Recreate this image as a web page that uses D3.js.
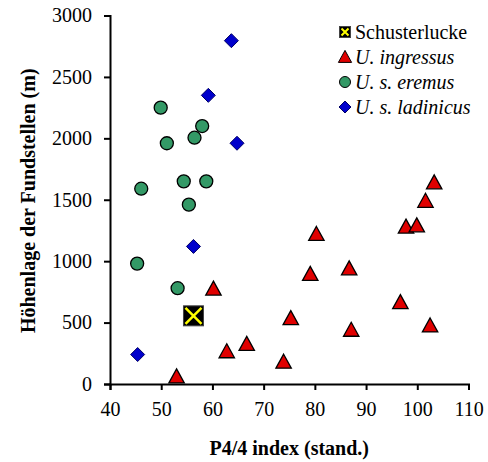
<!DOCTYPE html>
<html>
<head>
<meta charset="utf-8">
<script src="https://cdn.jsdelivr.net/npm/d3@7"></script>
<style>
  body { margin: 0; background: #fff; }
  svg text { font-family: "Liberation Serif", "Times New Roman", serif; }
</style>
</head>
<body>
<div id="chart"></div>
<script>
// Data (P4/4 index, altitude in m)
const schusterlucke = [[56.3, 555]];
const ingressus = [
  [53.0, 60], [60.2, 775], [62.8, 265], [66.7, 325], [73.9, 180], [75.3, 535],
  [79.1, 895], [80.3, 1220], [86.7, 940], [87.1, 440], [96.7, 665], [97.8, 1280],
  [99.9, 1290], [101.6, 1490], [103.3, 1640], [102.5, 475]
];
const eremus = [
  [49.9, 2250], [51.1, 1960], [56.5, 2005], [58.0, 2100], [54.4, 1650], [58.8, 1650],
  [46.1, 1590], [55.4, 1460], [45.3, 980], [53.2, 780]
];
const ladinicus = [[63.7, 2795], [59.2, 2350], [64.8, 1960], [56.3, 1120], [45.4, 240]];

const xTicks = [40, 50, 60, 70, 80, 90, 100, 110];
const yTicks = [0, 500, 1000, 1500, 2000, 2500, 3000];
const legendLabels = ["Schusterlucke", "U. ingressus", "U. s. eremus", "U. s. ladinicus"];

const width = 488, height = 462;
const fontSize = 20;
const serif = "'Liberation Serif', 'Times New Roman', serif";

const svg = d3.select("#chart").append("svg")
  .attr("width", width)
  .attr("height", height);

const x = d3.scaleLinear().domain([40, 110]).range([110, 468.5]);
const y = d3.scaleLinear().domain([0, 3000]).range([384, 15.5]);

// Axes
svg.append("g")
  .attr("transform", `translate(0,${y(0)})`)
  .call(d3.axisBottom(x).tickValues(xTicks).tickFormat(d3.format("d"))
    .tickSize(6).tickSizeOuter(6).tickPadding(12))
  .attr("font-family", serif).attr("font-size", fontSize)
  .call(g => g.selectAll("path, line").attr("stroke", "#000").attr("stroke-width", 2))
  .call(g => g.selectAll("text").attr("fill", "#000"));

svg.append("g")
  .attr("transform", `translate(${x(40)},0)`)
  .call(d3.axisLeft(y).tickValues(yTicks).tickFormat(d3.format("d"))
    .tickSize(6).tickSizeOuter(6).tickPadding(12))
  .attr("font-family", serif).attr("font-size", fontSize)
  .call(g => g.selectAll("path, line").attr("stroke", "#000").attr("stroke-width", 2))
  .call(g => g.selectAll("text").attr("fill", "#000"));

// Axis titles
svg.append("text")
  .attr("x", (x(40) + x(110)) / 2)
  .attr("y", 455)
  .attr("text-anchor", "middle")
  .attr("font-size", fontSize)
  .attr("font-weight", "bold")
  .text("P4/4 index (stand.)");

svg.append("text")
  .attr("transform", "rotate(-90)")
  .attr("x", -(y(0) + y(3000)) / 2 - 1)
  .attr("y", 35)
  .attr("text-anchor", "middle")
  .attr("font-size", fontSize)
  .attr("font-weight", "bold")
  .text("Höhenlage der Fundstellen (m)");

// Marker helpers
const triPath = s => `M0,${-s * 0.55}L${s * 0.55},${s * 0.45}L${-s * 0.55},${s * 0.45}Z`;
const diaPath = s => `M0,${-s}L${s},0L0,${s}L${-s},0Z`;

function drawSquare(g, s) {
  g.append("rect").attr("x", -s / 2).attr("y", -s / 2).attr("width", s).attr("height", s)
    .attr("fill", "#000").attr("stroke", "#444").attr("stroke-width", 1);
  const d = s / 2 - 2;
  g.append("path").attr("d", `M${-d},${-d}L${d},${d}M${d},${-d}L${-d},${d}`)
    .attr("stroke", "#ffff00").attr("stroke-width", s > 15 ? 2.5 : 2);
}

// Points
svg.append("g").selectAll("circle").data(eremus).join("circle")
  .attr("cx", d => x(d[0])).attr("cy", d => y(d[1])).attr("r", 6.5)
  .attr("fill", "#339966").attr("stroke", "#000").attr("stroke-width", 1.3);

svg.append("g").selectAll("path").data(ingressus).join("path")
  .attr("transform", d => `translate(${x(d[0])},${y(d[1])})`)
  .attr("d", triPath(14))
  .attr("fill", "#e00000").attr("stroke", "#000").attr("stroke-width", 1.3);

svg.append("g").selectAll("path").data(ladinicus).join("path")
  .attr("transform", d => `translate(${x(d[0])},${y(d[1])})`)
  .attr("d", diaPath(7))
  .attr("fill", "#0000cc").attr("stroke", "#000066").attr("stroke-width", 1);

svg.append("g").selectAll("g").data(schusterlucke).join("g")
  .attr("transform", d => `translate(${x(d[0])},${y(d[1])})`)
  .each(function () { drawSquare(d3.select(this), 20); });

// Legend
const legend = svg.append("g").attr("transform", "translate(345,32)");
legendLabels.forEach((label, i) => {
  const row = legend.append("g").attr("transform", `translate(0,${i * 25})`);
  if (i === 0) drawSquare(row, 11);
  if (i === 1) row.append("path").attr("d", triPath(12))
    .attr("fill", "#e00000").attr("stroke", "#000").attr("stroke-width", 1);
  if (i === 2) row.append("circle").attr("r", 5.5)
    .attr("fill", "#339966").attr("stroke", "#000").attr("stroke-width", 1);
  if (i === 3) row.append("path").attr("d", diaPath(6))
    .attr("fill", "#0000cc").attr("stroke", "#000066").attr("stroke-width", 1);
  row.append("text")
    .attr("x", 10).attr("y", 7)
    .attr("font-size", fontSize)
    .attr("font-style", i === 0 ? "normal" : "italic")
    .text(label);
});
</script>
</body>
</html>
